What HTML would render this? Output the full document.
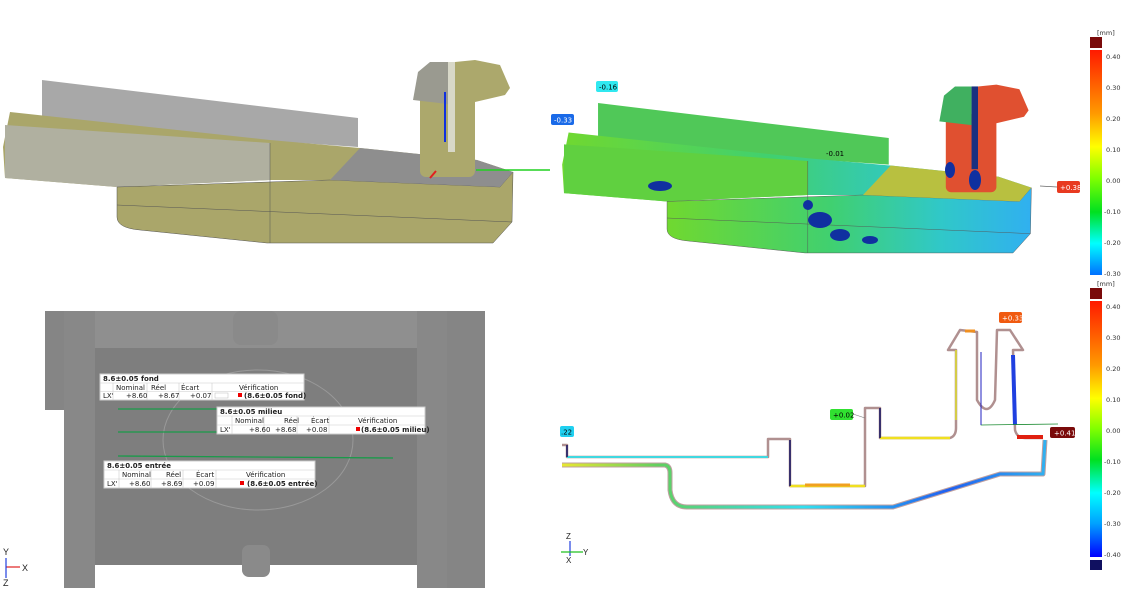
<!DOCTYPE html>
<html><head><meta charset="utf-8"><style>
html,body{margin:0;padding:0;background:#fff;width:1126px;height:607px;overflow:hidden}
svg{display:block;font-family:"Liberation Sans",sans-serif}
.t{font-family:"DejaVu Sans","Liberation Sans",sans-serif}
</style></head><body>
<svg width="1126" height="607" viewBox="0 0 1126 607" xmlns="http://www.w3.org/2000/svg">
<defs>
<linearGradient id="cb1" x1="0" y1="0" x2="0" y2="1">
<stop offset="0" stop-color="#ff1a00"/><stop offset="0.28" stop-color="#ff9900"/><stop offset="0.43" stop-color="#ffff00"/><stop offset="0.57" stop-color="#80ff00"/><stop offset="0.72" stop-color="#00e020"/><stop offset="0.86" stop-color="#00ffff"/><stop offset="1" stop-color="#0070ff"/></linearGradient>
<linearGradient id="cb2" x1="0" y1="0" x2="0" y2="1">
<stop offset="0" stop-color="#ff1a00"/><stop offset="0.25" stop-color="#ff9900"/><stop offset="0.38" stop-color="#ffff00"/><stop offset="0.5" stop-color="#80ff00"/><stop offset="0.62" stop-color="#00e020"/><stop offset="0.75" stop-color="#00ffff"/><stop offset="0.87" stop-color="#00a0ff"/><stop offset="1" stop-color="#0000ff"/></linearGradient>
<linearGradient id="grn" x1="0" y1="0" x2="1" y2="0">
<stop offset="0" stop-color="#70d830"/><stop offset="0.45" stop-color="#40d070"/><stop offset="0.75" stop-color="#30c8c8"/><stop offset="1" stop-color="#30b0f0"/></linearGradient>
<linearGradient id="lowp" x1="0" y1="0" x2="1" y2="0">
<stop offset="0" stop-color="#e8e830"/><stop offset="0.2" stop-color="#60d060"/><stop offset="0.5" stop-color="#30e0f0"/><stop offset="0.8" stop-color="#2060f0"/><stop offset="1" stop-color="#30b0f0"/></linearGradient>
<g id="part">
<polygon points="42,80 358,118 358,147 42,125" style="fill:var(--g)"/>
<polygon points="10,112 270,140 360,148 477,160 513,172 500,187 330,180 270,180 117,187 5,178 3,147" style="fill:var(--b)"/>
<polygon points="5,125 270,143 270,180 117,187 5,178" style="fill:var(--g2)"/>
<path d="M117,187 L117,217 Q117,228 140,230 L267,243 L493,243 L512,222 L513,172 L500,187 L330,180 L117,187Z" style="fill:var(--b)" stroke="#555" stroke-width="0.5"/>
<polygon points="330,180 360,148 477,160 513,172 500,187" style="fill:var(--p)"/>
<rect x="420" y="92" width="55" height="85" rx="6" style="fill:var(--h)"/>
<polygon points="413,100 418,72 430,62 448,62 448,104" style="fill:var(--h2)"/>
<polygon points="455,62 475,60 500,65 510,88 505,95 475,102 455,104" style="fill:var(--h)"/>
<rect x="448" y="62" width="7" height="90" style="fill:var(--s)"/>
<line x1="270" y1="143" x2="270" y2="243" stroke="#555" stroke-width="0.5"/>
<line x1="117" y1="205" x2="512" y2="222" stroke="#555" stroke-width="0.5"/>
</g>
</defs>

<g style="--g:#a8a8a8;--g2:#b0b0a0;--b:#aaa66a;--p:#8e8e8e;--h:#aca86c;--h2:#9a9a90;--s:#d8d8c8">
<use href="#part"/>
</g>
<line x1="445" y1="92" x2="445" y2="142" stroke="#1030e0" stroke-width="2"/>
<line x1="476" y1="170" x2="550" y2="170" stroke="#20d020" stroke-width="1.5"/>
<line x1="430" y1="178" x2="436" y2="171" stroke="#e02020" stroke-width="2"/>

<g transform="translate(559.4,29.4) scale(0.92)" style="--g:#50c858;--g2:#60d040;--b:url(#grn);--p:#b8c040;--h:#e05030;--h2:#40b060;--s:#1a3080">
<use href="#part"/>
</g>
<g fill="#1030a0">
<ellipse cx="820" cy="220" rx="12" ry="8"/><ellipse cx="840" cy="235" rx="10" ry="6"/><ellipse cx="660" cy="186" rx="12" ry="5"/><ellipse cx="975" cy="180" rx="6" ry="10"/><ellipse cx="950" cy="170" rx="5" ry="8"/><ellipse cx="808" cy="205" rx="5" ry="5"/><ellipse cx="870" cy="240" rx="8" ry="4"/></g>
<g class="t" font-size="7">
<rect x="596" y="81" width="22" height="11" rx="2" fill="#30e8f0"/><text x="599" y="89.5">-0.16</text>
<rect x="551" y="114" width="23" height="11" rx="2" fill="#1a6ae8"/><text x="554" y="122.5" fill="#fff">-0.33</text>
<text x="826" y="156">-0.01</text>
<rect x="1057" y="181" width="23" height="12" rx="2" fill="#e83a20"/><text x="1060" y="190" fill="#fff">+0.38</text>
</g>
<line x1="1040" y1="186" x2="1057" y2="187" stroke="#666" stroke-width="0.7"/>

<g class="t" font-size="6.5" fill="#333">
<text x="1097" y="35">[mm]</text>
<rect x="1090" y="37" width="12" height="11" fill="#7a0a0a"/>
<rect x="1090" y="50" width="12" height="225" fill="url(#cb1)"/>
<text x="1106" y="59">0.40</text><text x="1106" y="90">0.30</text><text x="1106" y="121">0.20</text><text x="1106" y="152">0.10</text><text x="1106" y="183">0.00</text><text x="1104" y="214">-0.10</text><text x="1104" y="245">-0.20</text><text x="1104" y="276">-0.30</text>
<text x="1097" y="286">[mm]</text>
<rect x="1090" y="288" width="12" height="11" fill="#7a0a0a"/>
<rect x="1090" y="301" width="12" height="256" fill="url(#cb2)"/>
<rect x="1090" y="560" width="12" height="10" fill="#101060"/>
<text x="1106" y="309">0.40</text><text x="1106" y="340">0.30</text><text x="1106" y="371">0.20</text><text x="1106" y="402">0.10</text><text x="1106" y="433">0.00</text><text x="1104" y="464">-0.10</text><text x="1104" y="495">-0.20</text><text x="1104" y="526">-0.30</text><text x="1104" y="557">-0.40</text>
</g>

<rect x="45" y="311" width="440" height="277" fill="#858585"/>
<rect x="45" y="410" width="19" height="180" fill="#fff"/>
<rect x="95" y="311" width="322" height="37" fill="#8f8f8f"/>
<rect x="95" y="348" width="322" height="217" fill="#7e7e7e"/>
<rect x="95" y="565" width="322" height="25" fill="#fff"/>
<rect x="64" y="311" width="31" height="277" fill="#888"/>
<rect x="417" y="311" width="30" height="277" fill="#888"/>
<rect x="233" y="311" width="45" height="34" rx="8" fill="#8a8a8a"/>
<rect x="242" y="545" width="28" height="32" rx="7" fill="#8a8a8a"/>
<ellipse cx="258" cy="440" rx="95" ry="70" fill="none" stroke="#999" stroke-width="1"/>
<g stroke="#1a9a4a" stroke-width="1.3">
<line x1="118" y1="409" x2="217" y2="409"/><line x1="118" y1="432" x2="217" y2="432"/><line x1="118" y1="456" x2="393" y2="458"/></g>
<g class="t" font-size="7" fill="#222">
<rect x="100" y="374" width="204" height="26" fill="#fff" stroke="#ccc"/>
<path d="M100,383 H304 M100,391.5 H304 M113,383 V400 M147,383 V400 M179,383 V400 M212,383 V400" stroke="#ccc" stroke-width="0.6"/>
<text x="103" y="381" font-weight="bold">8.6±0.05 fond</text>
<text x="116" y="390">Nominal</text><text x="151" y="390">Réel</text><text x="181" y="390">Écart</text><text x="239" y="390">Vérification</text>
<text x="103" y="398">LX'</text><text x="126" y="398">+8.60</text><text x="158" y="398">+8.67</text><text x="190" y="398">+0.07</text>
<rect x="215" y="393" width="13" height="5" fill="#fff" stroke="#bbb" stroke-width="0.5"/><rect x="238" y="393" width="4" height="4" fill="#e00"/><text x="244" y="398" font-weight="bold">(8.6±0.05 fond)</text>
<rect x="217" y="407" width="208" height="27" fill="#fff" stroke="#ccc"/>
<path d="M217,416 H425 M217,425 H425 M232,416 V434 M264,416 V434 M297,416 V434 M329,416 V434" stroke="#ccc" stroke-width="0.6"/>
<text x="220" y="414" font-weight="bold">8.6±0.05 milieu</text>
<text x="235" y="423">Nominal</text><text x="284" y="423">Réel</text><text x="311" y="423">Écart</text><text x="358" y="423">Vérification</text>
<text x="220" y="432">LX'</text><text x="249" y="432">+8.60</text><text x="275" y="432">+8.68</text><text x="306" y="432">+0.08</text>
<rect x="356" y="427" width="4" height="4" fill="#e00"/><text x="361" y="432" font-weight="bold">(8.6±0.05 milieu)</text>
<rect x="104" y="461" width="211" height="27" fill="#fff" stroke="#ccc"/>
<path d="M104,470 H315 M104,479 H315 M119,470 V488 M151,470 V488 M183,470 V488 M216,470 V488" stroke="#ccc" stroke-width="0.6"/>
<text x="107" y="468" font-weight="bold">8.6±0.05 entrée</text>
<text x="122" y="477">Nominal</text><text x="166" y="477">Réel</text><text x="196" y="477">Écart</text><text x="246" y="477">Vérification</text>
<text x="107" y="486">LX'</text><text x="129" y="486">+8.60</text><text x="161" y="486">+8.69</text><text x="193" y="486">+0.09</text>
<rect x="240" y="481" width="4" height="4" fill="#e00"/><text x="247" y="486" font-weight="bold">(8.6±0.05 entrée)</text>
</g>
<g font-size="9" fill="#222">
<text x="3" y="555">Y</text><text x="22" y="571">X</text><text x="3" y="586">Z</text></g>
<line x1="6" y1="567" x2="20" y2="567" stroke="#e02020" stroke-width="1.2"/>
<line x1="6" y1="558" x2="6" y2="578" stroke="#2040e0" stroke-width="1.2"/>

<g fill="none" stroke-linejoin="round">
<path d="M562,465 L665,465 Q670,466 670,473 L670,490 Q672,507 687,507 L893,507 L1000,474 L1043,474 L1045,440" stroke="#c0a0a0" stroke-width="5"/>
<path d="M562,465 L665,465 Q670,466 670,473 L670,490 Q672,507 687,507 L893,507 L1000,474 L1043,474 L1045,440" stroke="url(#lowp)" stroke-width="3"/>
<path d="M562,445 L567,445 L567,457 L768,457 L768,439 L790,439 L790,486 L865,486 L865,408 L880,408 L880,438 L950,438 Q956,436 956,428 L956,350 L948,350 L960,330 L977,332 L977,400 Q987,418 995,400 L997,330 L1010,330 L1023,350 L1013,350 L1015,430 Q1017,438 1025,438 L1043,438" stroke="#b09090" stroke-width="2.5"/>
<path d="M567,457 L768,457" stroke="#40d8e0" stroke-width="2"/>
<path d="M790,486 L865,486" stroke="#f0e020" stroke-width="2.5"/>
<path d="M805,485 L850,485" stroke="#f0a020" stroke-width="3"/>
<path d="M880,438 L950,438" stroke="#f0e020" stroke-width="2.5"/>
<path d="M1013,355 L1015,425" stroke="#2040e0" stroke-width="4"/>
<path d="M1017,437 L1043,437" stroke="#e02010" stroke-width="4"/>
<path d="M965,331 L975,331" stroke="#f09020" stroke-width="3"/>
<path d="M956,350 L956,420" stroke="#e0e030" stroke-width="1.5"/>
<path d="M790,440 L790,486 M880,408 L880,438 M567,445 L567,457" stroke="#101060" stroke-width="1.5"/>
<path d="M981,352 L981,425 L1058,424" stroke="#1a8a30" stroke-width="0.8"/>
<path d="M981,425 L981,352" stroke="#2020c0" stroke-width="1"/>
</g>
<g class="t" font-size="7">
<rect x="999" y="312" width="23" height="11" rx="2" fill="#f05a10"/><text x="1002" y="320.5" fill="#fff">+0.33</text>
<rect x="830" y="409" width="23" height="11" rx="2" fill="#30e030"/><text x="833" y="417.5">+0.02</text>
<rect x="1050" y="427" width="25" height="11" rx="2" fill="#7a0a0a"/><text x="1054" y="435.5" fill="#fff">+0.41</text>
<rect x="560" y="426" width="14" height="11" rx="2" fill="#20d0f0"/><text x="561" y="434.5">.22</text>
</g>
<line x1="853" y1="414" x2="865" y2="418" stroke="#777" stroke-width="0.6"/>
<g font-size="8" fill="#222">
<text x="566" y="539">Z</text><text x="583" y="555">Y</text><text x="566" y="563">X</text></g>
<line x1="570" y1="541" x2="570" y2="556" stroke="#2040e0" stroke-width="1.2"/>
<line x1="561" y1="552" x2="583" y2="552" stroke="#20c020" stroke-width="1.2"/>
</svg>
</body></html>
